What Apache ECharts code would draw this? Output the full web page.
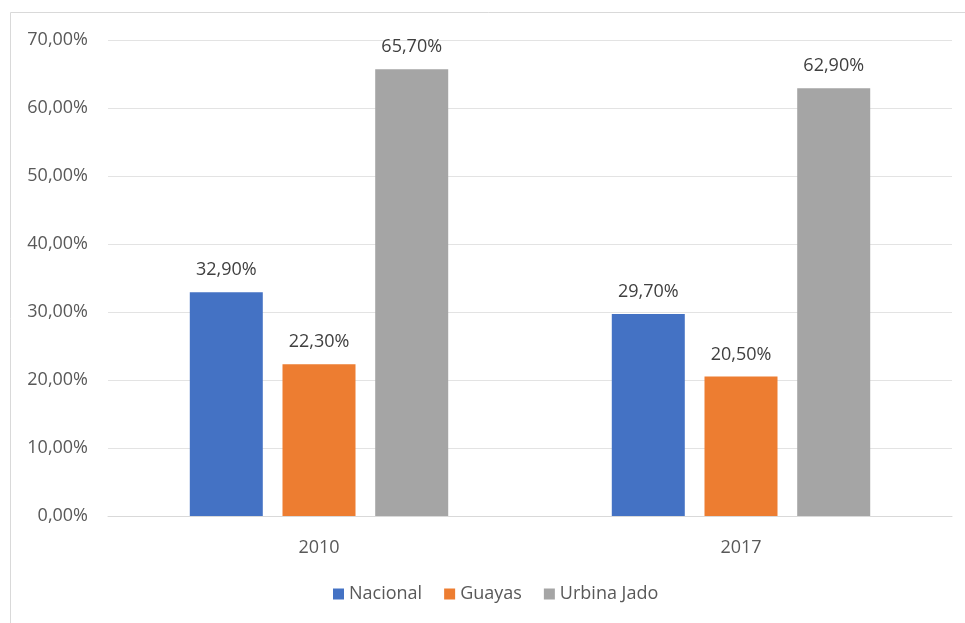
<!DOCTYPE html>
<html>
<head>
<meta charset="utf-8">
<script src="https://cdn.jsdelivr.net/npm/echarts@6/dist/echarts.min.js"></script>
<style>html,body{margin:0;padding:0;background:#fff}#c{width:965px;height:623px}</style>
</head>
<body>
<div id="c"></div>
<script>
const categories = ['2010', '2017'];
const seriesNames = ['Nacional', 'Guayas', 'Urbina Jado'];
const nacional = [32.9, 29.7];
const guayas = [22.3, 20.5];
const urbinaJado = [65.7, 62.9];
const colors = ['#4472C4', '#ED7D31', '#A5A5A5'];

const fmt = v => v.toFixed(2).replace('.', ',') + '%';
const font = 'Open Sans';
const chart = echarts.init(document.getElementById('c'));
const mk = (name, data, color) => ({
  name, type: 'bar', data, barWidth: 73, barGap: '27%',
  itemStyle: { color },
  label: { show: true, position: 'top', distance: 13, color: '#404040', fontFamily: font, fontSize: 18, formatter: p => fmt(p.value) }
});
chart.setOption({
  animation: false,
  textStyle: { fontFamily: font },
  graphic: [{ type: 'rect', shape: { x: 10.5, y: 12.5, width: 1000, height: 700 }, style: { fill: 'none', stroke: '#d9d9d9', lineWidth: 1 } }],
  grid: { left: 108, right: 13, top: 40, bottom: 107 },
  legend: {
    bottom: 15, left: 328, itemWidth: 11, itemHeight: 11, itemGap: 22,
    icon: 'rect',
    textStyle: { color: '#595959', fontSize: 18, fontFamily: font },
    data: seriesNames
  },
  xAxis: {
    type: 'category', data: categories,
    axisTick: { show: false },
    axisLine: { lineStyle: { color: '#d9d9d9' } },
    axisLabel: { color: '#595959', fontSize: 18, margin: 23, fontFamily: font }
  },
  yAxis: {
    type: 'value', min: 0, max: 70, interval: 10,
    axisLabel: { color: '#595959', fontSize: 18, margin: 20, fontFamily: font, formatter: v => fmt(v) },
    splitLine: { lineStyle: { color: '#e3e3e3' } },
    axisLine: { show: false }, axisTick: { show: false }
  },
  series: [mk(seriesNames[0], nacional, colors[0]), mk(seriesNames[1], guayas, colors[1]), mk(seriesNames[2], urbinaJado, colors[2])]
});
</script>
</body>
</html>
